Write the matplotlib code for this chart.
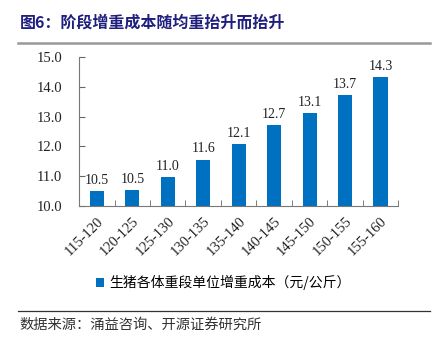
import matplotlib
matplotlib.use('Agg')
import matplotlib.pyplot as plt
from matplotlib.lines import Line2D

plt.rcParams['font.family'] = ['Liberation Serif', 'Noto Sans CJK SC']

categories = ['115-120', '120-125', '125-130', '130-135', '135-140',
              '140-145', '145-150', '150-155', '155-160']
cost = [10.50, 10.54, 10.96, 11.56, 12.08, 12.71, 13.13, 13.72, 14.32]
series_name = '生猪各体重段单位增重成本（元/公斤）'
title = '图6：阶段增重成本随均重抬升而抬升'
source = '数据来源：涌益咨询、开源证券研究所'

fig = plt.figure(figsize=(4.42, 3.44), dpi=100)
ax = fig.add_axes([0.179, 0.401, 0.722, 0.433])

x = range(len(categories))
bars = ax.bar(x, cost, width=0.4, color='#0070C0', label=series_name)
for xi, v in zip(x, cost):
    ax.text(xi, v + 0.14, f'{v:.1f}', ha='center', va='bottom',
            fontsize=10, color='#222222')

ax.set_ylim(10, 15)
ax.set_xlim(-0.5, len(categories) - 0.5)
ax.set_yticks([10, 11, 12, 13, 14, 15])
ax.set_yticklabels([f'{t:.1f}' for t in [10, 11, 12, 13, 14, 15]])
ax.set_xticks(list(x))
ax.set_xticklabels(categories, rotation=45, ha='right', rotation_mode='anchor')
ax.set_xticks([i + 0.5 for i in range(-1, len(categories))], minor=True)
ax.tick_params(axis='x', which='major', length=0, labelsize=10.5, pad=6)
ax.tick_params(axis='x', which='minor', direction='in', length=4, color='#666666')
ax.tick_params(axis='y', direction='in', length=4, labelsize=10.5, color='#666666',
               pad=12, labelcolor='#222222')
for lab in ax.get_xticklabels():
    lab.set_color('#222222')
for s in ['top', 'right']:
    ax.spines[s].set_visible(False)
for s in ['left', 'bottom']:
    ax.spines[s].set_color('#777777')

fig.text(0.045, 0.935, title, fontsize=11.5, fontweight='bold', color='#1F1F7F',
         family=['Noto Sans CJK SC'], va='center')
fig.add_artist(Line2D([0.04, 0.973], [0.875, 0.875], color='#999999', lw=1.8))

fig.legend(handles=[bars], labels=[series_name], loc='center',
           bbox_to_anchor=(0.505, 0.178), frameon=False,
           prop={'family': 'Noto Sans CJK SC', 'size': 10},
           handlelength=0.55, handleheight=0.55, handletextpad=0.4)

fig.add_artist(Line2D([0.04, 0.973], [0.097, 0.097], color='#333333', lw=0.9))
fig.text(0.045, 0.055, source, fontsize=10.3, color='#333333',
         family=['Noto Sans CJK SC'], va='center')

fig.savefig('out.png', dpi=100)
